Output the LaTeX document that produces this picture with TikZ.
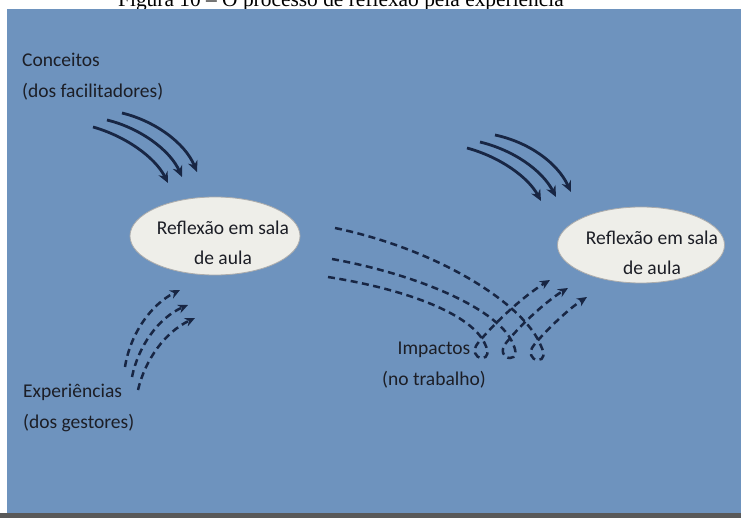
\documentclass[tikz,border=0pt]{standalone}
\usepackage{fontspec}
\setmainfont{Carlito}
\newfontfamily\titlefont{Liberation Serif}
\usepackage{tikz}
\usetikzlibrary{arrows.meta,positioning,calc,shapes.geometric}
\usepackage{xcolor}
\definecolor{panelblue}{RGB}{110,147,190}
\definecolor{inkblue}{RGB}{24,38,68}
\definecolor{labelgray}{RGB}{28,30,38}
\definecolor{reflwhite}{RGB}{238,238,233}

\begin{document}
\begin{tikzpicture}[
            x=1pt, y=-1pt,
            lbl/.style={anchor=base west, inner sep=0pt, text=labelgray, font=\fontsize{19.5}{31}\selectfont, align=left},
            reflbox/.style={ellipse, fill=reflwhite, draw=gray!65, line width=0.8pt, minimum width=170pt, minimum height=78pt, inner sep=0pt},
            refltext/.style={inner sep=0pt, text=labelgray, font=\fontsize{19.5}{30}\selectfont, align=center},
            solidarrow/.style={-{Stealth[length=11pt,width=10pt]}, line width=2.8pt, draw=inkblue},
            dasharrow/.style={-{Stealth[length=10pt,width=9pt]}, line width=2.5pt, draw=inkblue, dash pattern=on 7pt off 4.5pt}
        ]
            \useasboundingbox (0,0) rectangle (741,518);
            \node[anchor=base west, inner sep=0pt, font=\titlefont\fontsize{21.4}{24}\selectfont] (title) at (118,7) {Figura 10 – O processo de reflexão pela experiência};
            \fill[panelblue] (7,9) rectangle (741,513);
            \fill[black!65] (0,513) rectangle (741,518);

            \node[reflbox] (refl1) at (215,236) {};
            \node[refltext] (refl1t) at (223,243) {Reflexão em sala\\de aula};
            \node[reflbox, minimum width=167pt, minimum height=76pt] (refl2) at (641,245) {};
            \node[refltext] (refl2t) at (652,253) {Reflexão em sala\\de aula};

            \node[lbl] (conc) at (22,98) {Conceitos\\(dos facilitadores)};
            \node[lbl] (exper) at (23,428) {Experiências\\(dos gestores)};
            \node[lbl, align=center, anchor=base] (impact) at (434,385) {Impactos\\(no trabalho)};

            \draw[solidarrow] (93,127) .. controls (125,136) and (155,157) .. (168,183);
            \draw[solidarrow] (107,120) .. controls (140,128) and (170,150) .. (182,177);
            \draw[solidarrow] (122,113) .. controls (155,121) and (185,143) .. (197,172);

            \draw[solidarrow] (467,148) .. controls (500,157) and (528,177) .. (541,201);
            \draw[solidarrow] (480,142) .. controls (513,150) and (542,170) .. (556,197);
            \draw[solidarrow] (495,135) .. controls (528,142) and (557,162) .. (571,192);

            \draw[dasharrow] (125,367) .. controls (130,335) and (150,305) .. (180,290);
            \draw[dasharrow] (132,377) .. controls (138,347) and (158,318) .. (188,305);
            \draw[dasharrow] (138,390) .. controls (145,360) and (165,332) .. (195,318);

            \draw[dasharrow] (328,277) .. controls (410,290) and (472,315) .. (485,344) .. controls (489,352) and (488,358) .. (482,358) .. controls (475,358) and (472,350) .. (478,343) .. controls (495,322) and (525,295) .. (550,280);
            \draw[dasharrow] (332,259) .. controls (420,275) and (500,310) .. (513,344) .. controls (517,352) and (516,358) .. (510,358) .. controls (503,358) and (500,350) .. (506,343) .. controls (522,323) and (548,300) .. (568,288);
            \draw[dasharrow] (335,228) .. controls (440,250) and (525,305) .. (541,346) .. controls (545,354) and (544,360) .. (538,360) .. controls (531,360) and (528,352) .. (534,345) .. controls (548,328) and (570,308) .. (587,297);
        \end{tikzpicture}
\end{document}
